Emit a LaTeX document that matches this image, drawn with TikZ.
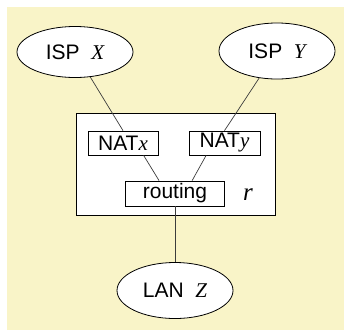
\documentclass[tikz,border=0pt]{standalone}
\usepackage{xcolor}
\usepackage{fontspec}
\setmainfont{Liberation Sans}
\newfontfamily\varfont{Liberation Serif}
\usepackage{tikz}
\usetikzlibrary{shapes.geometric, calc}
\definecolor{routerbg}{RGB}{249, 244, 200}
\definecolor{linkgray}{RGB}{60, 60, 60}
\newcommand{\hostvar}[1]{{\varfont\itshape #1}}

\begin{document}
\begin{tikzpicture}[x=1pt, y=-1pt,
    every node/.style={font=\fontsize{21}{23}\selectfont},
    net/.style={ellipse, draw=black, fill=white, line width=0.8pt, inner sep=0pt},
    natbox/.style={rectangle, draw=black, fill=white, line width=0.8pt, inner sep=0pt},
    link/.style={draw=linkgray, line width=0.7pt}]
    \useasboundingbox (0,0) rectangle (344,330);
    \fill[routerbg] (7,7) rectangle (344,330);

    % networks
    \node[net, minimum width=116pt, minimum height=51pt] (ispx) at (75,52) {ISP~~\hostvar{X}};
    \node[net, minimum width=116pt, minimum height=56pt] (ispy) at (277,51) {ISP~~\hostvar{Y}};
    \node[net, minimum width=116pt, minimum height=56pt] (lanz) at (175,290.5) {LAN~~\hostvar{Z}};

    % router r
    \node[natbox, minimum width=199pt, minimum height=102pt] (router) at (175.5,164) {};
    \node at (248,195) (rlabel) {\fontsize{25}{25}\selectfont\hostvar{r}};
    \node[natbox, minimum width=70pt, minimum height=24pt] (natx) at (123,143) {NAT\hostvar{x}};
    \node[natbox, minimum width=71pt, minimum height=24pt] (naty) at (224.5,143) {NAT\hostvar{y}};
    \node[natbox, minimum width=99pt, minimum height=25pt] (routing) at (175,193.5) {routing};

    % links
    \draw[link] (ispx) -- (natx.north);
    \draw[link] (ispy) -- (naty.north);
    \draw[link] (natx.-31) -- (routing.141);
    \draw[link] (naty.-146) -- (routing.37);
    \draw[link] (routing.south) -- (lanz.north);
\end{tikzpicture}
\end{document}
